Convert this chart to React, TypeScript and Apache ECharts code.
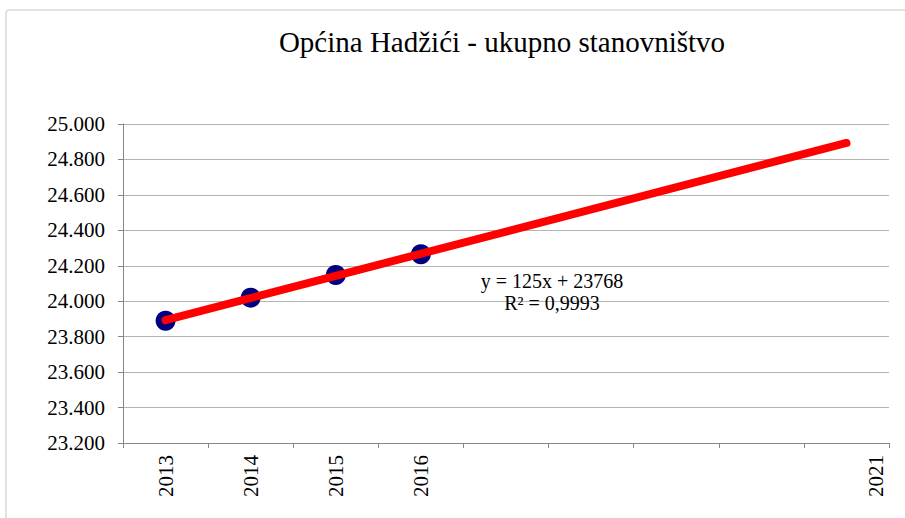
import React, { useEffect, useRef } from "react";
import * as echarts from "echarts";

const categories = ["2013", "2014", "2015", "2016", "", "", "", "", "2021"];
const population = [23890, 24020, 24148, 24265, null, null, null, null, null];
const trendEnds = [23893, null, null, null, null, null, null, null, 24893];
const yTicks = { min: 23200, max: 25000, interval: 200 };
const titleText = "Općina Hadžići - ukupno stanovništvo";
const equationText = "y = 125x + 23768";
const rSquaredText = "R² = 0,9993";

const FONT = "Times New Roman, serif";

export default function App() {
  const ref = useRef<HTMLDivElement>(null);
  useEffect(() => {
    if (!ref.current) return;
    const chart = echarts.init(ref.current, null, { renderer: "svg" });
    chart.setOption({
      animation: false,
      backgroundColor: "#ffffff",
      textStyle: { fontFamily: FONT },
      title: {
        text: titleText,
        left: 497,
        textAlign: "center",
        top: 22,
        textStyle: { fontFamily: FONT, fontSize: 29, fontWeight: "normal", color: "#000" },
      },
      grid: { left: 123, right: 16, top: 124, bottom: 75, containLabel: false },
      xAxis: {
        type: "category",
        data: categories,
        boundaryGap: true,
        axisLine: { lineStyle: { color: "#868686", width: 1 } },
        axisTick: { show: true, length: 5, interval: 0, lineStyle: { color: "#868686" } },
        axisLabel: {
          interval: 0,
          rotate: 90,
          margin: 12,
          color: "#000",
          fontFamily: FONT,
          fontSize: 21,
          formatter: (v: string, i: number) => (i === 8 ? "{r|" + v + "}" : v),
          rich: { r: { fontFamily: FONT, fontSize: 21, color: "#000", padding: [60, 0, 0, 0] } },
        },
        splitLine: { show: false },
      },
      yAxis: {
        type: "value",
        min: yTicks.min,
        max: yTicks.max,
        interval: yTicks.interval,
        axisLine: { show: true, lineStyle: { color: "#868686", width: 1 } },
        axisTick: { show: true, length: 5, lineStyle: { color: "#868686" } },
        axisLabel: {
          margin: 18,
          color: "#000",
          fontFamily: FONT,
          fontSize: 21,
          formatter: (v: number) => v.toLocaleString("en-US").replace(",", "."),
        },
        splitLine: { show: true, lineStyle: { color: "#b3b3b3", width: 1 } },
      },
      series: [
        {
          type: "line",
          data: population,
          symbol: "circle",
          symbolSize: 20,
          lineStyle: { width: 0, opacity: 0 },
          itemStyle: { color: "#000080" },
          z: 2,
        },
        {
          type: "line",
          data: trendEnds,
          connectNulls: true,
          showSymbol: false,
          symbol: "none",
          lineStyle: { color: "#ff0000", width: 8, cap: "round" },
          z: 3,
        },
      ],
      graphic: [
        {
          type: "rect",
          shape: { x: 6, y: 10, width: 940, height: 540, r: 3 },
          style: { fill: "none", stroke: "#d9d9d9", lineWidth: 1.5 },
          z: -10,
          silent: true,
        },
        {
          type: "text",
          x: 552,
          y: 291.5,
          style: {
            text: equationText + "\n" + rSquaredText,
            fontFamily: FONT,
            fontSize: 20,
            lineHeight: 22,
            fill: "#000",
            align: "center",
            verticalAlign: "middle",
          },
          z: 10,
        },
      ],
    });
    return () => chart.dispose();
  }, []);
  return (
    <div
      ref={ref}
      style={{ position: "fixed", left: 0, top: 0, width: 905, height: 518 }}
    />
  );
}
